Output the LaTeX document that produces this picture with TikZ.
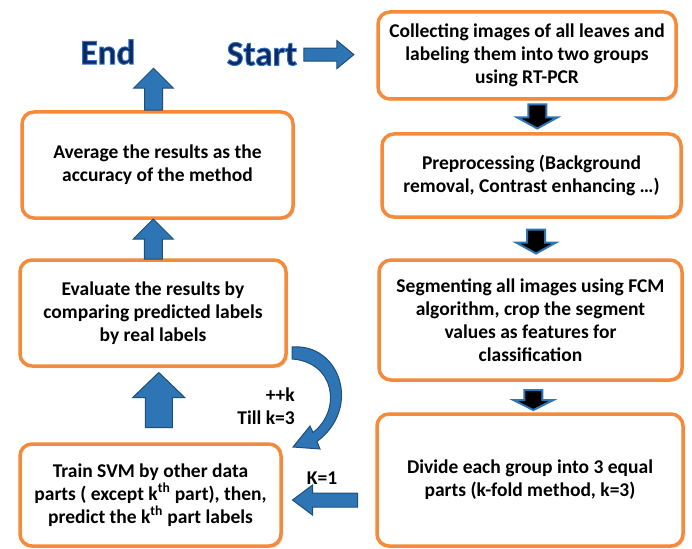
\documentclass[tikz,border=0pt]{standalone}
\usepackage{fontspec}
\setmainfont{Carlito}
\usetikzlibrary{calc,shadows}

\definecolor{boxorange}{HTML}{F58A3A}
\definecolor{arrowblue}{HTML}{2E75B6}
\definecolor{arrowedge}{HTML}{1F4E79}
\definecolor{titlenavy}{HTML}{0C2A60}
\newcommand\boxfont{\fontsize{19.5}{23}\selectfont\bfseries}
\newcommand\titlefont{\fontsize{35}{38}\selectfont\bfseries}
\newcommand\glowtext[1]{\special{pdf:literal direct q 2 Tr 0.9 w 0.2 0.45 0.78 RG}#1\special{pdf:literal direct Q}}

\tikzset{
  box/.style={draw=boxorange, line width=3.5pt, rounded corners=12pt, fill=white,
    align=center, font=\boxfont, inner sep=0pt,
    drop shadow={opacity=0.25, shadow xshift=2pt, shadow yshift=-2pt}},
  steplabel/.style={font=\boxfont, inner sep=0pt},
  title/.style={font=\titlefont, text=titlenavy, inner sep=0pt},
  bluearrow/.style={fill=arrowblue, draw=arrowedge, line width=1pt, line join=miter},
  darkarrow/.style={fill=black, draw=arrowblue, line width=2pt, line join=miter},
  pics/blockarrow/.style args={#1/#2/#3/#4/#5}{code={
    \draw[#5] (-#1/2,-#2)--(#1/2-#4,-#2)--(#1/2-#4,-#3)--(#1/2,0)--(#1/2-#4,#3)--(#1/2-#4,#2)--(-#1/2,#2)--cycle;
  }}
}

\begin{document}
\begin{tikzpicture}[x=1pt,y=-1pt]
\useasboundingbox[fill=white] (0,0) rectangle (692,548);

\node[box, minimum width=298pt, minimum height=87pt] (coll) at (527,55.5) {Collecting images of all leaves and\\labeling them into two groups\\using RT-PCR};
\node[box, minimum width=299pt, minimum height=83pt] (prep) at (531.5,175.5) {Preprocessing (Background\\removal, Contrast enhancing \dots)};
\node[box, minimum width=303pt, minimum height=120pt] (seg) at (530.5,320) {Segmenting all images using FCM\\algorithm, crop the segment\\values as features for\\classification};
\node[box, minimum width=306pt, minimum height=132pt] (div) at (530,480) {Divide each group into 3 equal\\parts (k-fold method, k=3)};
\node[box, minimum width=261pt, minimum height=102pt] (train) at (150.5,495) {Train SVM by other data\\parts ( except k\textsuperscript{th} part), then,\\predict the k\textsuperscript{th} part labels};
\node[box, minimum width=266pt, minimum height=106pt] (eval) at (153,313) {Evaluate the results by\\comparing predicted labels\\by real labels};
\node[box, minimum width=271pt, minimum height=106pt] (avg) at (157.5,165) {Average the results as the\\accuracy of the method};

\node[title] (start) at (262,54) {\glowtext{Start}};
\node[title] (end) at (108,52) {\glowtext{End}};

\node[steplabel, anchor=east] (inc) at (295,395) {++k};
\node[steplabel, anchor=east] (till) at (295,418) {Till k=3};
\node[steplabel] (kone) at (322,478) {K=1};

\pic at ($(start.east)!0.4!(coll.west)$) {blockarrow={50/6.5/14/17/bluearrow}};
\pic[rotate=-90] at ($(coll.south)!0.5!(prep.north)+(8,0)$) {blockarrow={24/9/20/11/darkarrow}};
\pic[rotate=-90] at ($(prep.south)!0.5!(seg.north)+(5,3)$) {blockarrow={24/9/20/11/darkarrow}};
\pic[rotate=-90] at ($(seg.south)!0.5!(div.north)+(3,3)$) {blockarrow={20/9/20/10/darkarrow}};
\pic[rotate=180] at ($(div.west |- train.east)!0.5!(train.east)+(-4,5)$) {blockarrow={65/7/15/20/bluearrow}};
\pic[rotate=90] at ($(train.north)!0.5!(eval.south)+(7,-5)$) {blockarrow={55/13.5/26/25/bluearrow}};
\pic[rotate=90] at ($(eval.north)!0.5!(avg.south)+(-2,0)$) {blockarrow={40/9/20/20/bluearrow}};
\pic[rotate=90] at ($(avg.north)+(-4,-21)$) {blockarrow={42/9/20/20/bluearrow}};

\draw[bluearrow] (292,347) .. controls (340,343) and (362,408) .. (317,441.5) -- (320,449) -- (293,447)
  -- (310,426) -- (313,432.5) .. controls (342,410) and (335,362) .. (292,359) -- cycle;

\end{tikzpicture}
\end{document}
